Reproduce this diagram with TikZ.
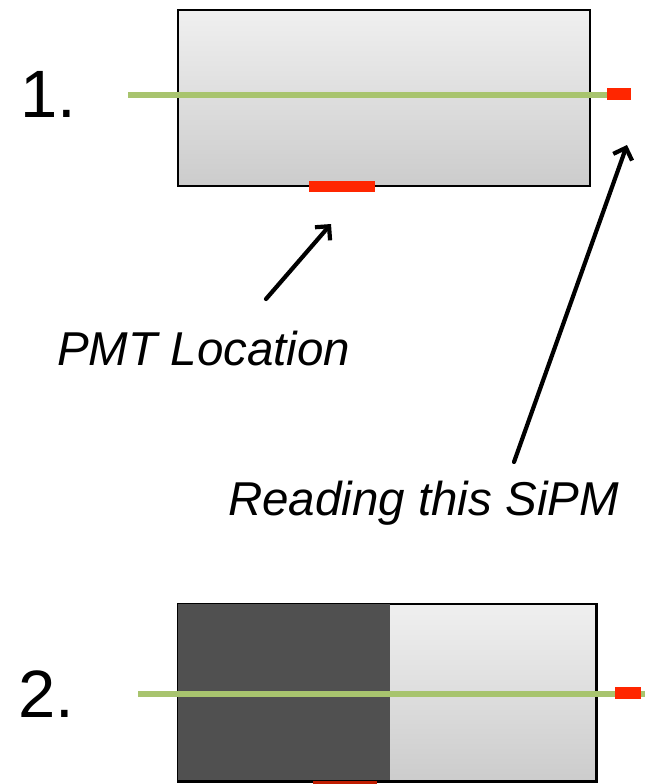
\documentclass[tikz,border=0pt]{standalone}
\usepackage{fontspec}
\setmainfont{Liberation Sans}
\usetikzlibrary{positioning, arrows.meta}
\definecolor{FiberGreen}{RGB}{168,196,110}
\definecolor{SiPMRed}{RGB}{255,38,0}
\definecolor{DarkHalf}{RGB}{80,80,80}

\begin{document}
\begin{tikzpicture}[x=1pt, y=-1pt,
  bar/.style={draw, line width=1.5pt, top color=black!6, bottom color=black!20, minimum width=412pt, minimum height=176pt, inner sep=0pt},
  sensor/.style={fill=SiPMRed, inner sep=0pt},
  fiber/.style={FiberGreen, line width=6pt},
  pointer/.style={-{Straight Barb[length=10pt, width=20pt]}, line width=4.2pt, line cap=round},
  tagtext/.style={font=\fontsize{47.5}{50}\selectfont\itshape, inner sep=0pt, anchor=base west},
  numtext/.style={font=\fontsize{67}{70}\selectfont, inner sep=0pt, anchor=base west}]
\useasboundingbox (0,0) rectangle (650,784);
% first setup
\node (num1) [numtext] at (20,117) {1.};
\node (bar1) [bar] at (384,98) {};
\coordinate (fib1a) at (128,95);
\coordinate (fib1b) at (608,95);
\draw[fiber] (fib1a) -- (fib1b);
\node (sipm1) [sensor, minimum width=24pt, minimum height=12pt] at (619,94) {};
\node (pmt1) [sensor, minimum width=66pt, minimum height=11pt] at (342,186) {};
\node (pmtlabel) [tagtext] at (57,365) {PMT Location};
\node (readlabel) [tagtext] at (228,515) {Reading this SiPM};
\coordinate (pmttail) at (266,299);
\coordinate (pmttip) at (331,224);
\coordinate (readtail) at (514,462);
\coordinate (readtip) at (627,145);
\draw[pointer] (pmttail) -- (pmttip);
\draw[pointer] (readtail) -- (readtip);
% second setup
\node (num2) [numtext] at (18,717) {2.};
\node (bar2) [bar, minimum width=418pt, minimum height=177pt] at (387,692.5) {};
\node (dark2) [fill=DarkHalf, inner sep=0pt, anchor=north west, minimum width=212pt, minimum height=176pt] at ([shift={(0.75pt,-0.75pt)}]bar2.north west) {};
\draw[line width=1.5pt] (bar2.north west) rectangle (bar2.south east);
\coordinate (fib2a) at (138,694);
\coordinate (fib2b) at (645,694);
\draw[fiber] (fib2a) -- (fib2b);
\node (sipm2) [sensor, minimum width=26pt, minimum height=12pt] at (628,693) {};
\node (pmt2) [sensor, fill=SiPMRed!75!black, minimum width=64pt, minimum height=10pt] at (345,786) {};
\end{tikzpicture}
\end{document}
